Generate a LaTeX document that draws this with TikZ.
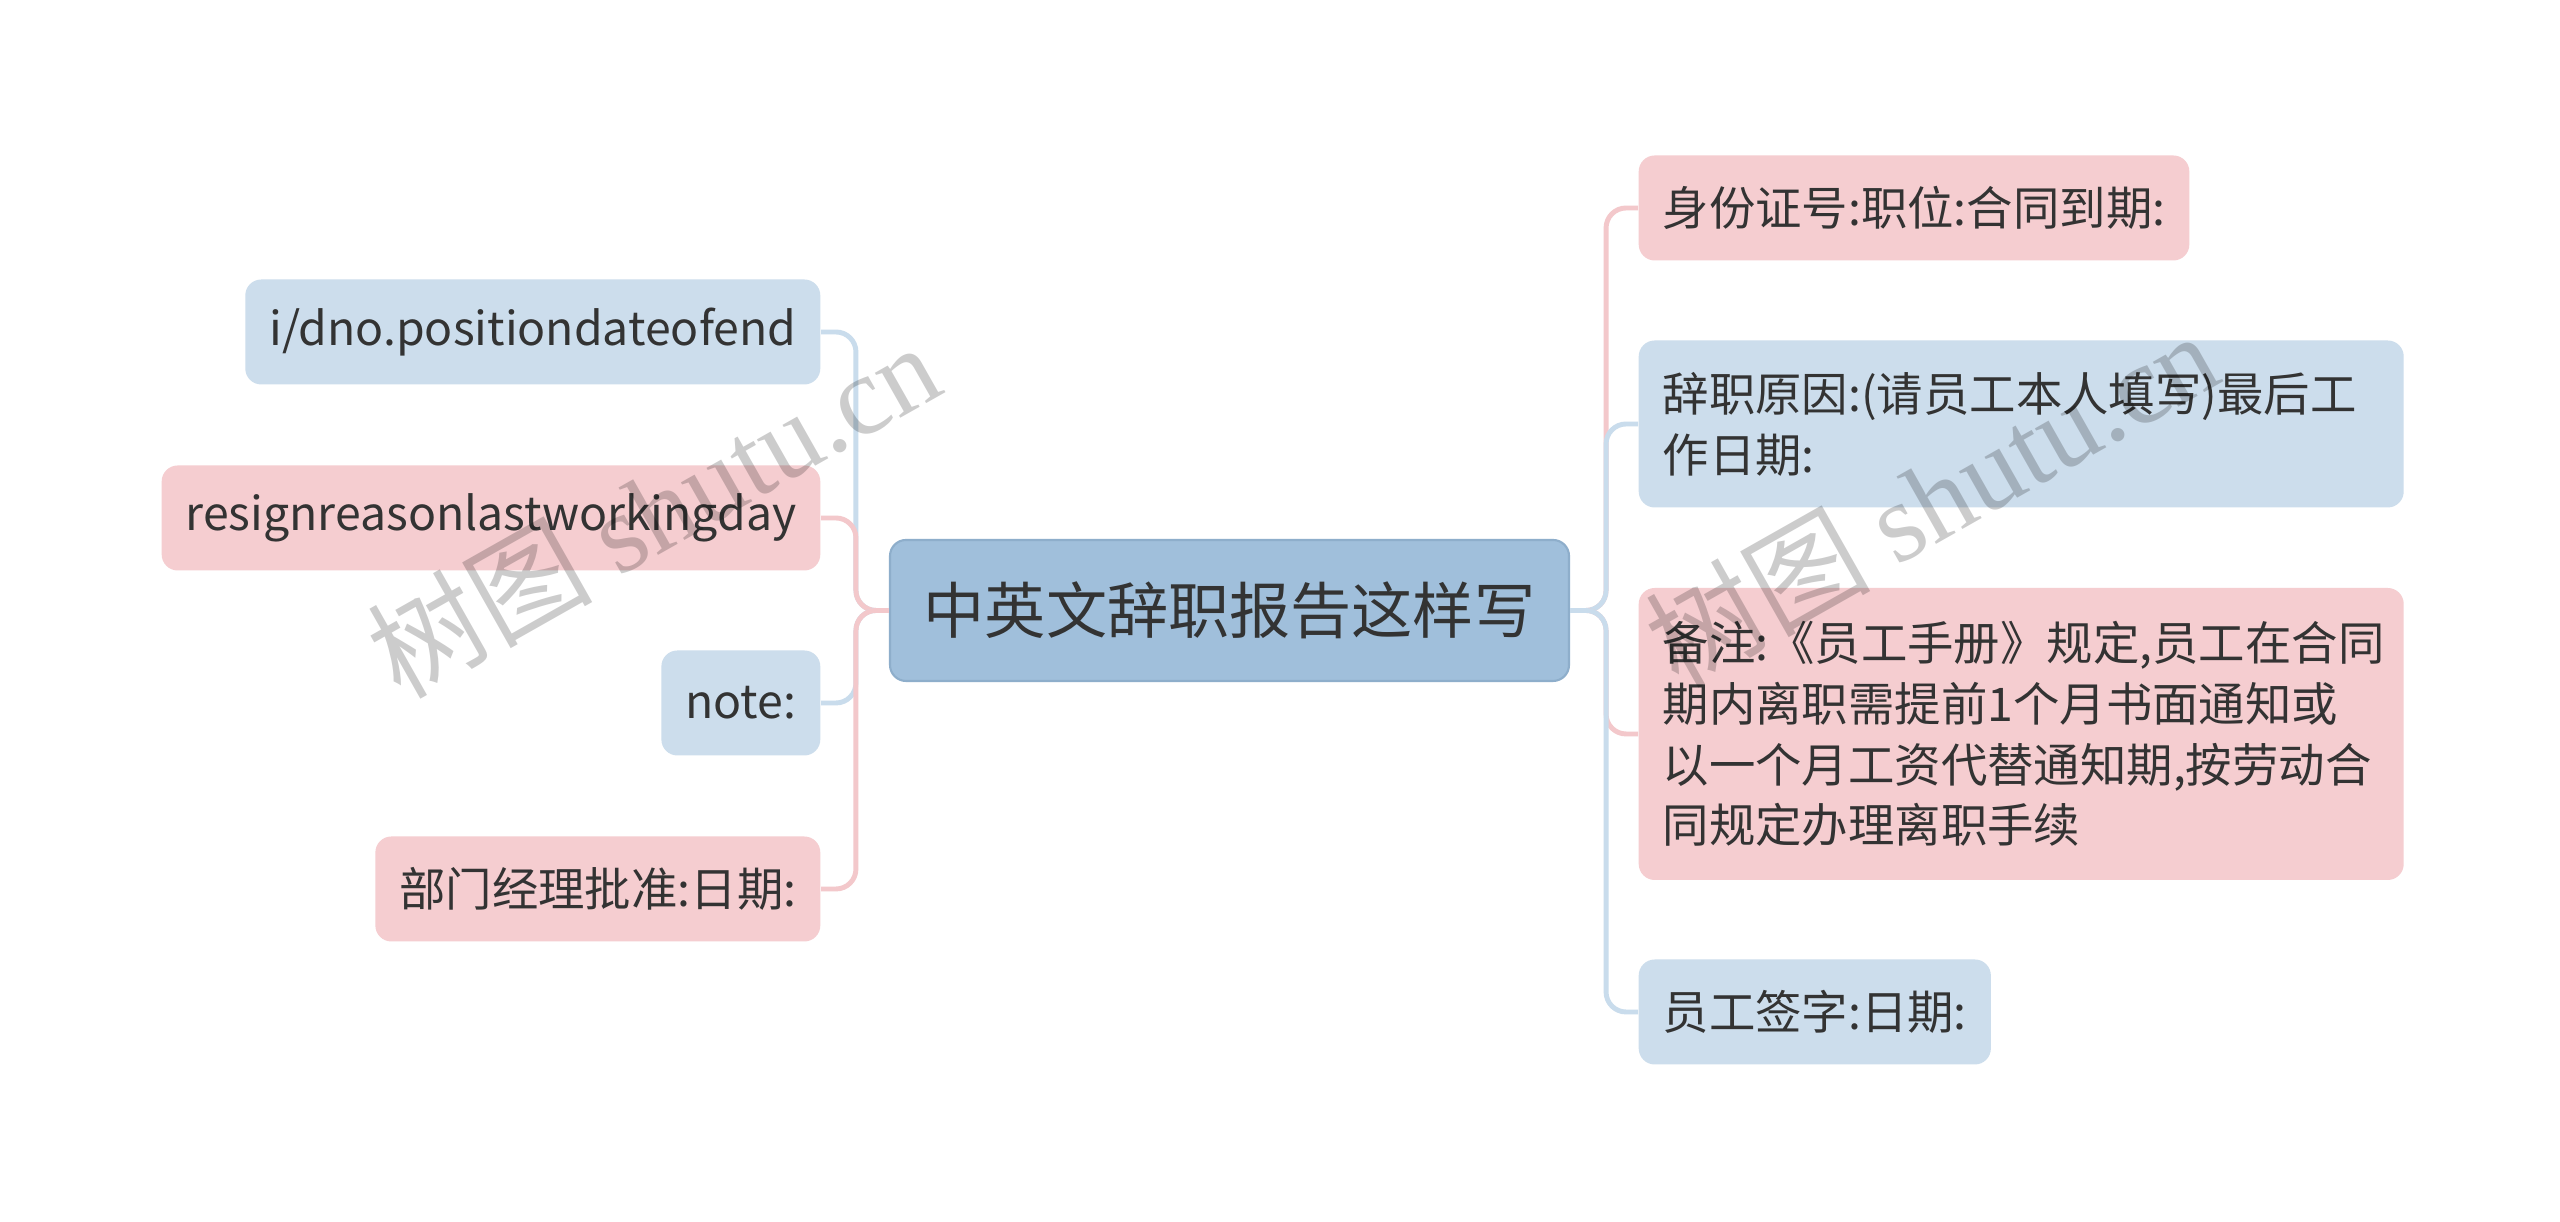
\documentclass[tikz,border=0pt]{standalone}
\usepackage{fontspec}
\setmainfont{Noto Sans CJK SC}
\newfontfamily\wmlatin{Liberation Serif}
\newfontfamily\wmcjk{Noto Sans CJK SC}
\usepackage{tikz}
\definecolor{bluebox}{HTML}{CCDDEC}
\definecolor{pinkbox}{HTML}{F5CDD0}
\definecolor{rootbox}{HTML}{A0BFDB}
\definecolor{rootline}{HTML}{8EAECB}
\definecolor{blueline}{HTML}{C9DCEC}
\definecolor{pinkline}{HTML}{F3C8CB}
\definecolor{txt}{HTML}{333333}

\begin{document}
\begin{tikzpicture}[
	leaf/.style={rounded corners=0.16cm, text=txt, inner xsep=0.24cm, inner ysep=0.2cm, minimum height=1.05cm, font=\fontsize{13.2pt}{17.3pt}\selectfont},
	bluenode/.style={leaf, fill=bluebox},
	pinknode/.style={leaf, fill=pinkbox},
	rootnode/.style={rounded corners=0.16cm, fill=rootbox, draw=rootline, line width=0.6pt, text=txt, minimum width=6.79cm, minimum height=1.41cm, font=\fontsize{17.4pt}{20pt}\selectfont},
	blueedge/.style={draw=blueline, line width=1.4pt, rounded corners=0.2cm},
	pinkedge/.style={draw=pinkline, line width=1.4pt, rounded corners=0.2cm},
	wmark/.style={text=black, text opacity=0.2, rotate=29.5, font=\fontsize{32pt}{32pt}\selectfont}
]
	\useasboundingbox (0,0) rectangle (25.6,12.22);
	\fill[white] (0,0) rectangle (25.6,12.22);

	\node[rootnode] (root) at (12.295,6.115) {中英文辞职报告这样写};

	\node[bluenode, anchor=east] (l1) at (8.21,8.90) {i/dno.positiondateofend};
	\node[pinknode, anchor=east] (l2) at (8.21,7.04) {resignreasonlastworkingday};
	\node[bluenode, anchor=east] (l3) at (8.21,5.19) {note:};
	\node[pinknode, anchor=east] (l4) at (8.21,3.33) {部门经理批准:日期:};

	\node[pinknode, anchor=west] (r1) at (16.38,10.14) {身份证号:职位:合同到期:};
	\node[bluenode, anchor=west, text width=7.17cm, align=left, minimum height=1.67cm] (r2) at (16.38,7.98) {辞职原因:(请员工本人填写)最后工\\作日期:};
	\node[pinknode, anchor=west, text width=7.17cm, align=left, minimum height=2.92cm] (r3) at (16.38,4.88) {备注:《员工手册》规定,员工在合同\\期内离职需提前1个月书面通知或\\以一个月工资代替通知期,按劳动合\\同规定办理离职手续};
	\node[bluenode, anchor=west] (r4) at (16.38,2.10) {员工签字:日期:};

	\draw[blueedge] (root.west) -- ++(-0.33,0) |- (l1.east);
	\draw[pinkedge] (root.west) -- ++(-0.33,0) |- (l2.east);
	\draw[blueedge] (root.west) -- ++(-0.33,0) |- (l3.east);
	\draw[pinkedge] (root.west) -- ++(-0.33,0) |- (l4.east);

	\draw[pinkedge] (root.east) -- ++(0.36,0) |- (r1.west);
	\draw[blueedge] (root.east) -- ++(0.36,0) |- (r2.west);
	\draw[pinkedge] (root.east) -- ++(0.36,0) |- (r3.west);
	\draw[blueedge] (root.east) -- ++(0.36,0) |- (r4.west);

	\node[wmark] (wm1) at (6.53,7.13) {{\wmcjk 树图} {\wmlatin shutu.cn}};
	\node[wmark] (wm2) at (19.31,7.24) {{\wmcjk 树图} {\wmlatin shutu.cn}};
\end{tikzpicture}
\end{document}
